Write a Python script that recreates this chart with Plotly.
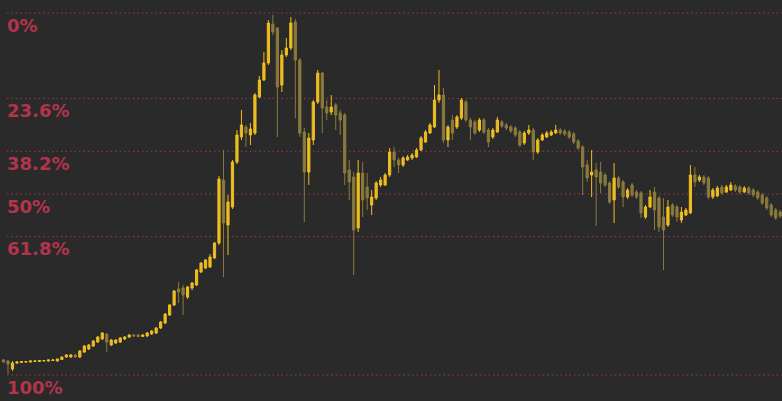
import plotly.graph_objects as go

opens = [15, 14, 6, 12, 12.5, 13, 13, 13.5, 13.5, 14, 14, 14.5, 14, 15.5, 18, 18, 20, 18, 23, 26,
         29, 33, 36, 41, 30, 32, 33, 36, 38, 40, 40, 38.5, 39, 41, 42, 47, 52, 60, 70, 86,
         87, 78, 87, 90, 103, 107, 108, 117, 132, 195, 150, 168, 213, 238, 248, 240, 242, 278, 295, 312,
         351, 347, 290, 320, 327, 353, 315, 243, 203, 235, 273, 302, 268, 263, 270, 262, 260, 205, 198, 147,
         202, 188, 170, 177, 190, 190, 200, 223, 215, 210, 215, 217, 218, 225, 233, 242, 248, 275, 280, 235,
         255, 248, 257, 273, 255, 253, 245, 255, 245, 238, 243, 253, 250, 248, 247, 243, 232, 242, 245, 223,
         235, 238, 240, 242, 245, 244, 243, 241, 234, 228, 210, 200, 205, 203, 200, 192, 175, 197, 193, 178,
         190, 183, 182, 158, 168, 183, 177, 158, 150, 170, 168, 155, 160, 162, 200, 195, 198, 197, 178, 179,
         188, 183, 185, 189, 188, 183, 187, 185, 183, 180, 177, 170, 165, 163]
highs = [16, 15, 14, 14, 14, 14, 14.5, 15, 15, 15, 15.5, 16, 16.5, 18.5, 21, 21, 21, 25, 30, 31,
         35, 39, 43, 42, 36, 36, 38, 39, 41, 41, 41, 41, 43, 45, 48, 54, 62, 71, 85, 93,
         90, 89, 93, 106, 113, 116, 121, 133, 199, 225, 180, 215, 245, 265, 250, 252, 282, 299, 323, 355,
         360, 348, 325, 337, 358, 356, 317, 247, 242, 275, 305, 303, 275, 280, 272, 265, 262, 215, 203, 215,
         213, 202, 185, 194, 198, 202, 227, 228, 217, 219, 220, 222, 227, 239, 245, 252, 290, 305, 287, 250,
         260, 260, 277, 275, 257, 255, 257, 257, 247, 247, 258, 255, 252, 250, 249, 245, 244, 250, 247, 237,
         242, 244, 245, 250, 247, 246, 245, 243, 236, 230, 215, 225, 212, 213, 202, 194, 212, 199, 195, 187,
         192, 185, 184, 170, 185, 188, 179, 177, 175, 172, 170, 168, 167, 210, 208, 200, 200, 199, 187, 189,
         190, 190, 193, 191, 190, 189, 189, 187, 185, 182, 179, 172, 167, 165]
lows = [12, 1, 4, 11, 12, 12, 12.5, 13, 13, 13.5, 13.5, 14, 13.5, 15, 17.5, 17, 17, 17, 22, 25,
        28, 32, 35, 23, 29, 31, 32, 35, 37, 38, 37.5, 38, 38, 40, 41, 46, 51, 59, 69, 72,
        60, 76, 85, 89, 102, 106, 107, 116, 130, 98, 120, 166, 211, 235, 228, 230, 240, 277, 294, 310,
        340, 238, 283, 318, 325, 257, 238, 153, 190, 230, 271, 242, 255, 260, 245, 240, 190, 175, 100, 143,
        158, 165, 160, 175, 188, 189, 198, 208, 202, 208, 214, 215, 217, 224, 232, 241, 247, 272, 232, 228,
        235, 246, 255, 253, 235, 240, 243, 241, 228, 236, 242, 247, 245, 242, 238, 228, 230, 240, 215, 221,
        234, 237, 239, 241, 240, 239, 236, 231, 225, 180, 193, 178, 149, 182, 188, 171, 152, 186, 168, 176,
        178, 176, 157, 156, 167, 145, 143, 105, 148, 158, 153, 152, 159, 161, 188, 193, 190, 176, 176, 178,
        180, 182, 184, 183, 181, 182, 180, 178, 175, 170, 165, 158, 155, 157]
closes = [13, 11, 12, 13, 13.5, 13.5, 14, 14, 14.5, 14.5, 15, 15, 16, 18, 20, 20, 18, 24, 29, 30,
          34, 38, 42, 33, 35, 35, 37, 38, 40, 39, 38.5, 40, 42, 44, 47, 53, 61, 70, 84, 83,
          80, 88, 92, 105, 112, 115, 118, 132, 196, 152, 173, 213, 240, 250, 242, 246, 280, 295, 312, 352,
          343, 288, 320, 327, 352, 315, 242, 203, 237, 273, 302, 267, 262, 268, 260, 255, 202, 193, 145, 202,
          175, 177, 178, 192, 195, 200, 223, 215, 210, 217, 218, 220, 225, 237, 243, 250, 275, 280, 235, 248,
          242, 258, 275, 255, 248, 242, 255, 243, 233, 245, 255, 249, 247, 244, 240, 230, 242, 245, 223, 235,
          240, 242, 243, 245, 242, 241, 238, 233, 227, 208, 197, 203, 198, 192, 190, 173, 197, 188, 178, 185,
          180, 178, 162, 168, 178, 165, 148, 145, 168, 160, 158, 163, 165, 200, 193, 198, 192, 178, 185, 187,
          182, 188, 190, 185, 183, 187, 182, 180, 177, 172, 167, 160, 157, 159]
periods = list(range(len(opens)))

swing_high = 362
swing_low = 0
fib_ratios = [0.0, 0.236, 0.382, 0.5, 0.618, 1.0]
fib_labels = ["0%", "23.6%", "38.2%", "50%", "61.8%", "100%"]

UP = "#eebd1f"
DOWN = "#8a7a3e"
FIB_LINE = "#a03a4c"
FIB_TEXT = "#b3344b"
BG = "#2a2a2a"

fig = go.Figure(go.Candlestick(
    x=periods, open=opens, high=highs, low=lows, close=closes,
    increasing=dict(line=dict(color=UP, width=1), fillcolor=UP),
    decreasing=dict(line=dict(color=DOWN, width=1), fillcolor=DOWN),
    whiskerwidth=0, hoverinfo="skip", showlegend=False,
))

for r, lab in zip(fib_ratios, fib_labels):
    level = swing_high - r * (swing_high - swing_low)
    fig.add_shape(type="line", xref="paper", x0=0.009, x1=1, yref="y", y0=level, y1=level,
                  line=dict(color=FIB_LINE, width=1, dash="1.5px,3px"), layer="below")
    fig.add_annotation(xref="paper", yref="y", x=0.006, y=level, yshift=-12, text=lab,
                       showarrow=False, xanchor="left", yanchor="middle",
                       font=dict(family="DejaVu Sans", size=18, color=FIB_TEXT, weight="bold"))

fig.update_layout(
    width=782, height=401, margin=dict(l=0, r=0, t=0, b=0),
    paper_bgcolor=BG, plot_bgcolor=BG, showlegend=False,
    xaxis=dict(range=[-0.78, 173.4], visible=False, rangeslider=dict(visible=False)),
    yaxis=dict(range=[-26, 375], visible=False),
)

fig.write_html("out.html", config={"displayModeBar": False},
               post_script="document.body.style.margin='0';document.body.style.overflow='hidden';document.body.style.background='#2a2a2a';")
